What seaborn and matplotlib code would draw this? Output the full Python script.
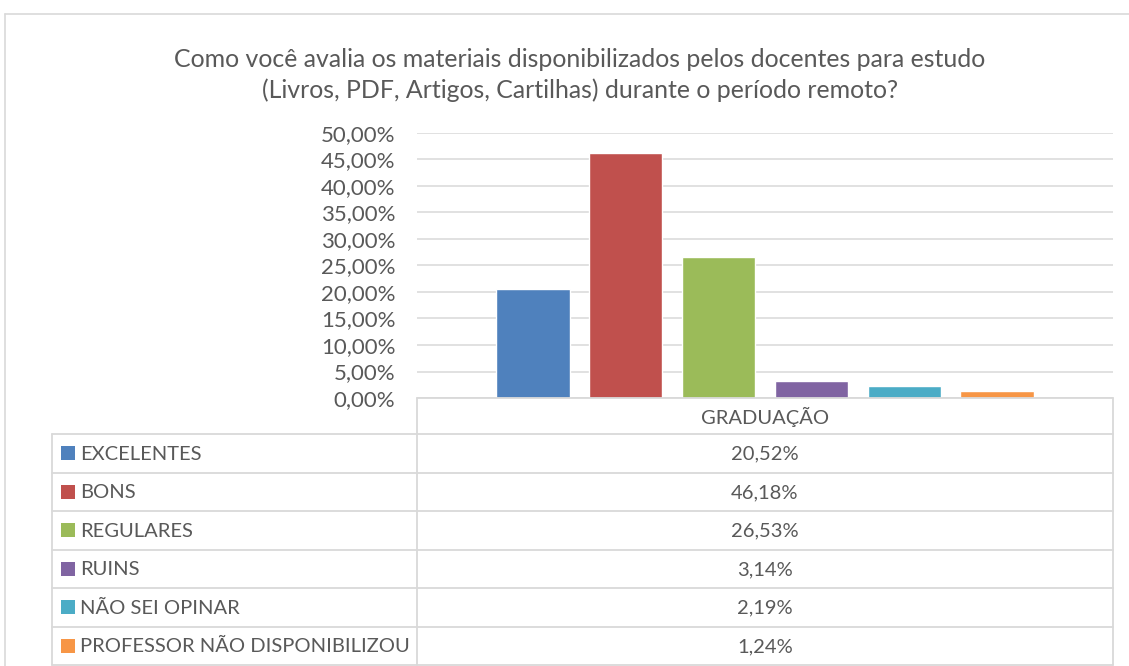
import matplotlib
matplotlib.use("Agg")
import matplotlib.pyplot as plt
from matplotlib.ticker import FuncFormatter, MultipleLocator
from matplotlib.patches import Rectangle
from matplotlib.lines import Line2D
import pandas as pd
import seaborn as sns

# Survey answers (percent of respondents)
titulo = ("Como você avalia os materiais disponibilizados pelos docentes para estudo\n"
          "(Livros, PDF, Artigos, Cartilhas) durante o período remoto?")
grupo = "GRADUAÇÃO"
categorias = ["EXCELENTES", "BONS", "REGULARES", "RUINS",
              "NÃO SEI OPINAR", "PROFESSOR NÃO DISPONIBILIZOU"]
valores = [20.52, 46.18, 26.53, 3.14, 2.19, 1.24]
cores = ["#4F81BD", "#C0504D", "#9BBB59", "#8064A2", "#4BACC6", "#F79646"]

W, H = 1129, 666
TXT = "#595959"
LINHA = "#D9D9D9"

sns.set_theme(style="white")
plt.rcParams["font.family"] = ["Lato", "DejaVu Sans"]

fig = plt.figure(figsize=(W / 100, H / 100), dpi=100)
fig.patch.set_facecolor("white")

# plot area in pixel coordinates (left, top, right, bottom)
pl, pt, pr, pb = 417, 133, 1113, 398
ax = fig.add_axes([pl / W, 1 - pb / H, (pr - pl) / W, (pb - pt) / H])

df = pd.DataFrame({"grupo": [grupo] * len(categorias),
                   "categoria": categorias,
                   "valor": valores})
sns.barplot(data=df, x="grupo", y="valor", hue="categoria",
            hue_order=categorias, palette=cores, width=0.8, gap=0.21,
            saturation=1, legend=False, ax=ax, zorder=3)

ax.set_ylim(0, 50)
ax.set_xlim(-0.5, 0.5)
ax.yaxis.set_major_locator(MultipleLocator(5))
ax.yaxis.set_major_formatter(FuncFormatter(lambda v, _: f"{v:.2f}%".replace(".", ",")))
ax.grid(axis="y", color=LINHA, linewidth=1.1, zorder=0)
ax.set_axisbelow(True)
for s in ax.spines.values():
    s.set_visible(False)
ax.set_xticks([])
ax.set_xlabel("")
ax.set_ylabel("")
ax.tick_params(axis="y", length=0, pad=15.5, labelsize=16, labelcolor=TXT)

# overlay in pixel coordinates for the frame, title and data table
ov = fig.add_axes([0, 0, 1, 1], zorder=5)
ov.set_xlim(0, W)
ov.set_ylim(H, 0)
ov.axis("off")
ov.patch.set_alpha(0)

# chart frame
ov.add_line(Line2D([5, W], [14, 14], color=LINHA, lw=1.2))
ov.add_line(Line2D([5, 5], [14, H], color=LINHA, lw=1.2))

ov.text(580, 75, titulo, ha="center", va="center", fontsize=17.9,
        color=TXT, linespacing=1.42)

# data table below the plot area
tl = 52
head_top, head_bot = pb, 434
row_h = 38.5
n = len(categorias)
bot = head_bot + n * row_h
lw_t = 1.3
ov.add_line(Line2D([pl, pr], [head_top, head_top], color=LINHA, lw=lw_t))
ov.add_line(Line2D([pl, pl], [head_top, bot], color=LINHA, lw=lw_t))
ov.add_line(Line2D([pr, pr], [head_top, bot], color=LINHA, lw=lw_t))
ov.add_line(Line2D([tl, tl], [head_bot, bot], color=LINHA, lw=lw_t))
for i in range(n + 1):
    y = head_bot + i * row_h
    ov.add_line(Line2D([tl, pr], [y, y], color=LINHA, lw=lw_t))
ov.text((pl + pr) / 2, (head_top + head_bot) / 2 + 1, grupo, ha="center",
        va="center", fontsize=14.5, color=TXT)
for i, (cat, val, cor) in enumerate(zip(categorias, valores, cores)):
    yc = head_bot + (i + 0.5) * row_h
    ov.add_patch(Rectangle((61, yc - 7), 14, 14, color=cor, lw=0))
    ov.text(80, yc + 1, cat, ha="left", va="center", fontsize=14.5, color=TXT)
    ov.text((pl + pr) / 2, yc + 1, f"{val:.2f}%".replace(".", ","),
            ha="center", va="center", fontsize=14.5, color=TXT)

fig.savefig("out.png", dpi=100, facecolor="white")
